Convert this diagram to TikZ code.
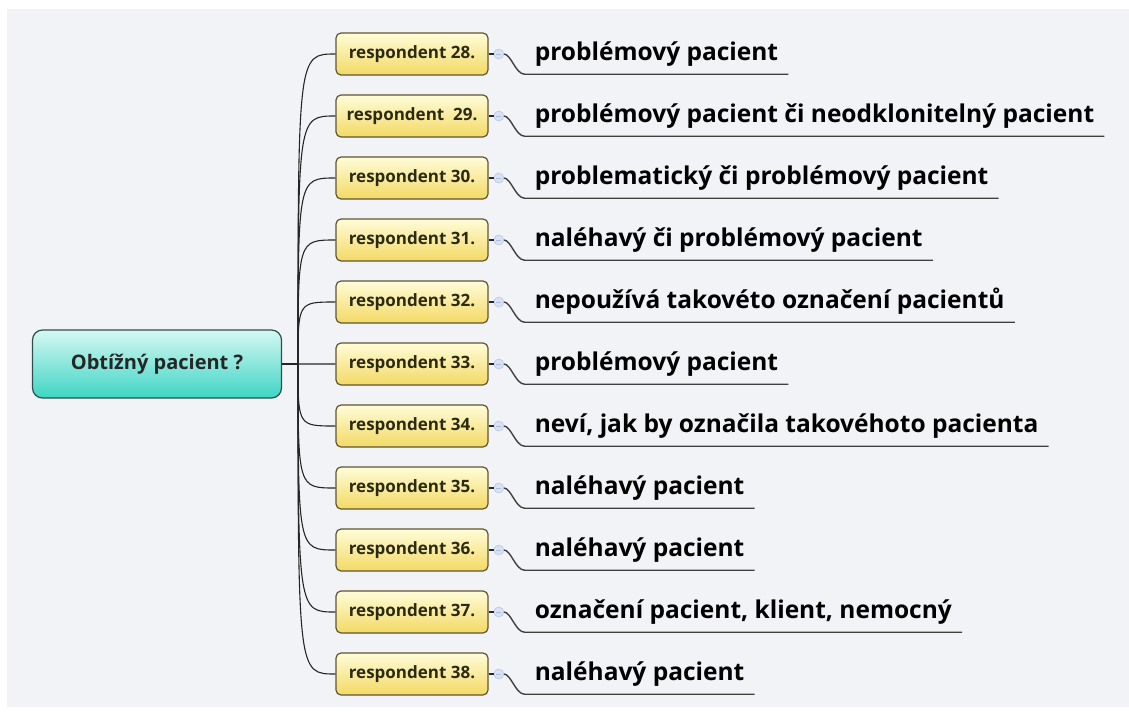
\documentclass[tikz,border=0pt]{standalone}
\usepackage{fontspec}
\setmainfont{Open Sans}
\usepackage{tikz}
\usetikzlibrary{positioning, calc, shadings}

\definecolor{bgpanel}{HTML}{F2F3F7}
\definecolor{rootline}{HTML}{2E4F4C}
\definecolor{roottop}{HTML}{D6F8F3}
\definecolor{rootbot}{HTML}{3DD5C4}
\definecolor{respline}{HTML}{5E5632}
\definecolor{resptop}{HTML}{FFFCD8}
\definecolor{respbot}{HTML}{F3D964}
\definecolor{resptext}{HTML}{2B2A12}
\definecolor{knobfill}{HTML}{D8E2F3}
\definecolor{knobline}{HTML}{A9BBDA}

\begin{document}
\begin{tikzpicture}[
    x=1pt, y=-1pt,
    node distance=18.8pt,
    root/.style={draw=rootline, line width=1.2pt, rectangle, rounded corners=10pt, minimum width=249pt, minimum height=68pt, top color=roottop, bottom color=rootbot, font=\fontsize{20}{24}\selectfont\bfseries, text=black!85},
    resp/.style={draw=respline, line width=1.2pt, rectangle, rounded corners=5pt, minimum width=152pt, minimum height=42pt, inner xsep=6pt, top color=resptop, bottom color=respbot, font=\fontsize{17}{20}\selectfont\bfseries, text=resptext},
    knob/.style={circle, draw=knobline, fill=knobfill, minimum size=10pt, inner sep=0pt, path picture={\draw[knobline, line width=0.8pt] ([xshift=-2.5pt]path picture bounding box.center) -- ([xshift=2.5pt]path picture bounding box.center);}},
    answer/.style={inner xsep=10pt, inner ysep=0pt, text height=18pt, text depth=6pt, minimum height=40pt, font=\fontsize{24.5}{28}\selectfont\bfseries, text=black},
    branch/.style={draw=black!85, line width=1.1pt},
    uline/.style={draw=black!75, line width=1.4pt}
]
\useasboundingbox (0,0) rectangle (1129,712);
\fill[white] (0,0) rectangle (1129,712);
\fill[bgpanel] (7,9) rectangle (1129,707);

\node[root] (root) at (157,364) {Obtížný pacient ?};
\coordinate (hub) at (298,364);

\node[resp] (r28) at (412,54) {respondent 28.};
\node[resp, below=of r28] (r29) {respondent~~29.};
\node[resp, below=of r29] (r30) {respondent 30.};
\node[resp, below=of r30] (r31) {respondent 31.};
\node[resp, below=of r31] (r32) {respondent 32.};
\node[resp, below=of r32] (r33) {respondent 33.};
\node[resp, below=of r33] (r34) {respondent 34.};
\node[resp, below=of r34] (r35) {respondent 35.};
\node[resp, below=of r35] (r36) {respondent 36.};
\node[resp, below=of r36] (r37) {respondent 37.};
\node[resp, below=of r37] (r38) {respondent 38.};

\node[answer, right=36pt of r28] (a28) {problémový pacient};
\node[answer, right=36pt of r29] (a29) {problémový pacient či neodklonitelný pacient};
\node[answer, right=36pt of r30] (a30) {problematický či problémový pacient};
\node[answer, right=36pt of r31] (a31) {naléhavý či problémový pacient};
\node[answer, right=36pt of r32] (a32) {nepoužívá takovéto označení pacientů};
\node[answer, right=36pt of r33] (a33) {problémový pacient};
\node[answer, right=36pt of r34] (a34) {neví, jak by označila takovéhoto pacienta};
\node[answer, right=36pt of r35] (a35) {naléhavý pacient};
\node[answer, right=36pt of r36] (a36) {naléhavý pacient};
\node[answer, right=36pt of r37] (a37) {označení pacient, klient, nemocný};
\node[answer, right=36pt of r38] (a38) {naléhavý pacient};

% root to hub, hub to each respondent
\draw[branch] (root) -- (hub);
\foreach \n in {28,...,38}{
  \draw[branch] (hub) .. controls (hub |- r\n.west) .. (r\n.west);
  \node[knob, right=5pt of r\n] (k\n) {};
  \draw[branch] (r\n.east) -- (k\n.west);
  \draw[uline] (k\n.east) .. controls +(7,0) and +(-9,0) .. (a\n.south west) -- (a\n.south east);
}

\end{tikzpicture}
\end{document}
